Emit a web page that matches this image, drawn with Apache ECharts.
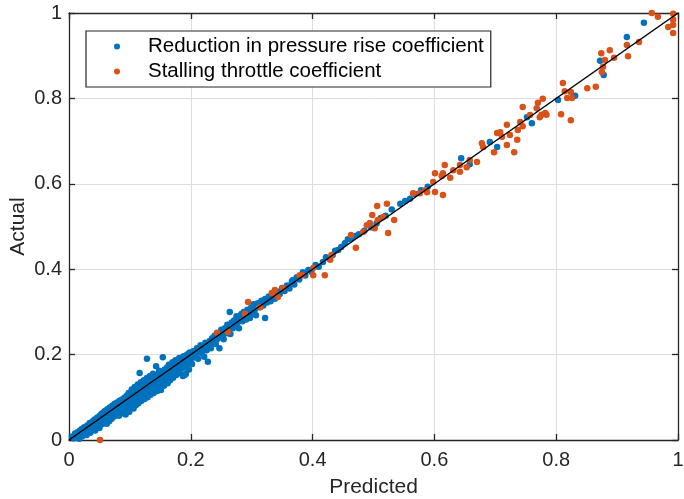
<!DOCTYPE html>
<html>
<head>
<meta charset="utf-8">
<script src="https://cdn.jsdelivr.net/npm/echarts@6/dist/echarts.min.js"></script>
<style>
html,body{margin:0;padding:0;background:#fff;}
#chart{width:684px;height:499px;}
</style>
</head>
<body>
<div id="chart"></div>
<script>
var xTicks = [0, 0.2, 0.4, 0.6, 0.8, 1];
var yTicks = [0, 0.2, 0.4, 0.6, 0.8, 1];
var seriesNames = ['Reduction in pressure rise coefficient', 'Stalling throttle coefficient'];
var axisNames = ['Predicted', 'Actual'];
var idealLine = [[0, 0], [1, 1]];

var reductionPoints = [
[0.005,0.008],[0.008,0.004],[0.010,0.015],[0.012,0.006],[0.014,0.018],[0.015,0.010],[0.017,0.003],[0.018,0.022],[0.020,0.014],[0.021,0.026],[0.022,0.009],[0.024,0.020],[0.025,0.030],[0.026,0.016],[0.028,0.024],[0.029,0.012],[0.030,0.034],[0.031,0.021],[0.033,0.028],[0.034,0.040],[0.035,0.017],[0.036,0.032],[0.038,0.025],[0.039,0.044],[0.040,0.036],[0.041,0.029],[0.042,0.048],[0.043,0.022],[0.045,0.040],[0.046,0.052],[0.047,0.034],[0.048,0.045],[0.050,0.028],[0.050,0.056],
[0.052,0.044],[0.053,0.061],[0.054,0.037],[0.055,0.050],[0.056,0.064],[0.057,0.042],[0.058,0.055],[0.059,0.068],[0.060,0.047],[0.061,0.060],[0.062,0.038],[0.063,0.072],[0.064,0.053],[0.065,0.065],[0.066,0.044],[0.067,0.076],[0.068,0.058],[0.069,0.070],[0.070,0.050],[0.071,0.080],[0.072,0.063],[0.073,0.074],[0.074,0.055],[0.075,0.085],[0.076,0.068],[0.077,0.060],[0.078,0.079],[0.079,0.088],[0.080,0.064],[0.081,0.073],[0.082,0.057],[0.083,0.092],[0.084,0.070],[0.085,0.082],[0.086,0.062],[0.087,0.095],[0.088,0.076],[0.089,0.087],[0.090,0.068],[0.091,0.099],[0.092,0.080],[0.093,0.060],[0.094,0.091],[0.095,0.104],[0.096,0.073],[0.097,0.085],[0.098,0.110],[0.099,0.066],[0.100,0.094],
[0.101,0.081],[0.102,0.107],[0.103,0.118],[0.104,0.088],[0.105,0.099],[0.106,0.074],[0.107,0.113],[0.108,0.124],[0.109,0.093],[0.110,0.082],[0.110,0.104],[0.111,0.119],[0.112,0.098],[0.113,0.130],[0.114,0.086],[0.115,0.110],[0.116,0.157],[0.116,0.124],[0.117,0.101],[0.118,0.135],[0.119,0.092],[0.120,0.116],[0.121,0.128],[0.122,0.105],[0.123,0.140],[0.124,0.096],[0.125,0.121],[0.126,0.132],[0.127,0.110],[0.128,0.145],[0.128,0.190],[0.129,0.100],[0.130,0.126],[0.131,0.138],[0.132,0.115],[0.133,0.150],[0.134,0.106],[0.135,0.130],[0.136,0.143],[0.137,0.120],[0.138,0.155],[0.139,0.110],[0.140,0.135],[0.141,0.148],[0.142,0.124],[0.143,0.173],[0.144,0.140],[0.145,0.115],[0.146,0.153],[0.147,0.130],[0.148,0.162],[0.149,0.121],[0.150,0.145],
[0.151,0.117],[0.152,0.158],[0.153,0.134],[0.154,0.194],[0.155,0.150],[0.156,0.127],[0.157,0.165],[0.158,0.140],[0.160,0.155],[0.161,0.170],[0.162,0.133],[0.163,0.148],[0.164,0.176],[0.165,0.160],[0.166,0.140],[0.168,0.168],[0.169,0.152],[0.170,0.182],[0.171,0.146],[0.172,0.174],[0.173,0.160],[0.175,0.187],[0.176,0.152],[0.177,0.169],[0.178,0.178],[0.180,0.163],[0.181,0.192],[0.182,0.157],[0.183,0.175],[0.185,0.185],[0.186,0.168],[0.187,0.150],[0.188,0.196],[0.189,0.178],[0.190,0.152],[0.191,0.188],[0.192,0.155],[0.193,0.170],[0.194,0.200],[0.195,0.182],[0.196,0.190],[0.197,0.165],[0.198,0.205],[0.199,0.185],[0.200,0.195],
[0.202,0.178],[0.204,0.208],[0.206,0.193],[0.208,0.200],[0.210,0.215],[0.212,0.190],[0.214,0.206],[0.216,0.222],[0.218,0.203],[0.220,0.214],[0.222,0.195],[0.224,0.228],[0.226,0.210],[0.228,0.183],[0.229,0.222],[0.231,0.232],[0.233,0.215],[0.235,0.238],[0.237,0.226],[0.239,0.244],[0.241,0.225],[0.243,0.236],[0.245,0.250],[0.247,0.215],[0.248,0.240],[0.250,0.258],[0.252,0.245],[0.254,0.236],[0.256,0.262],[0.258,0.250],[0.260,0.270],[0.262,0.258],[0.264,0.300],[0.265,0.248],[0.267,0.275],[0.269,0.262],[0.271,0.280],[0.273,0.268],[0.275,0.290],[0.277,0.276],[0.279,0.262],[0.281,0.286],[0.283,0.295],[0.285,0.278],[0.287,0.300],[0.289,0.290],[0.291,0.282],[0.293,0.305],[0.295,0.296],[0.297,0.286],[0.299,0.310],[0.301,0.298],[0.303,0.318],[0.305,0.305],[0.307,0.292],[0.310,0.320],[0.313,0.311],[0.316,0.326],[0.319,0.315],[0.322,0.286],[0.322,0.330],[0.325,0.322],[0.328,0.336],[0.331,0.325],
[0.335,0.340],[0.338,0.331],[0.342,0.348],[0.346,0.342],[0.350,0.356],[0.354,0.349],[0.358,0.362],[0.362,0.355],[0.366,0.372],[0.368,0.375],[0.370,0.364],[0.374,0.381],[0.378,0.376],[0.384,0.393],[0.388,0.385],[0.393,0.398],[0.398,0.394],[0.405,0.410],[0.410,0.406],[0.417,0.417],[0.422,0.428],[0.428,0.424],[0.433,0.433],[0.437,0.443],[0.442,0.445],[0.447,0.452],[0.453,0.461],[0.458,0.470],[0.464,0.472],[0.470,0.478],[0.476,0.482],[0.485,0.490],[0.496,0.498],[0.505,0.507],[0.512,0.520],[0.520,0.525],[0.530,0.540],[0.544,0.553],[0.552,0.560],[0.560,0.565],[0.568,0.576],[0.578,0.585],[0.589,0.593],
[0.644,0.660],[0.658,0.646],[0.691,0.698],[0.703,0.686],[0.752,0.756],[0.760,0.742],[0.803,0.796],[0.831,0.806],[0.872,0.888],[0.878,0.855],[0.916,0.944],[0.944,0.977]
];

var stallingPoints = [
[0.051,0.000],
[0.243,0.251],[0.261,0.253],[0.289,0.295],[0.294,0.323],[0.314,0.311],[0.333,0.344],[0.338,0.351],[0.343,0.335],[0.351,0.356],[0.383,0.386],[0.379,0.386],[0.401,0.403],[0.401,0.386],[0.420,0.386],[0.429,0.422],[0.431,0.433],[0.471,0.450],[0.463,0.480],[0.483,0.487],[0.489,0.503],[0.494,0.508],[0.502,0.496],[0.498,0.527],[0.507,0.515],[0.516,0.522],[0.534,0.515],[0.524,0.485],[0.506,0.548],[0.522,0.553],
[0.565,0.578],[0.576,0.578],[0.588,0.580],[0.598,0.604],[0.585,0.585],[0.601,0.581],[0.614,0.574],[0.601,0.625],[0.614,0.625],[0.617,0.644],[0.626,0.614],[0.612,0.618],[0.631,0.632],[0.642,0.644],[0.642,0.628],[0.653,0.639],[0.658,0.656],[0.670,0.651],[0.678,0.695],[0.680,0.686],[0.698,0.674],[0.703,0.719],[0.708,0.721],[0.711,0.710],[0.719,0.738],[0.719,0.691],[0.724,0.714],[0.731,0.674],[0.736,0.703],[0.737,0.726],[0.741,0.745],[0.745,0.735],[0.745,0.780],[0.757,0.761],[0.768,0.777],[0.770,0.790],[0.776,0.762],[0.784,0.762],[0.778,0.799],[0.782,0.766],[0.773,0.756],[0.808,0.763],[0.824,0.749],[0.811,0.836],[0.814,0.817],[0.824,0.815],[0.818,0.801],[0.826,0.801],[0.851,0.824],[0.865,0.827],[0.874,0.906],[0.877,0.874],[0.875,0.862],[0.880,0.890],[0.888,0.913],[0.895,0.895],[0.916,0.925],[0.918,0.899],[0.936,0.932],[0.957,1.000],[0.967,0.991],[0.992,0.998],[0.992,0.984],[0.992,0.972],[0.984,0.967],[0.992,0.953]
];

var FONT = '"Liberation Sans", Arial, Helvetica, sans-serif';
var AX = '#262626';

function fmt(v) { return String(Math.round(v * 10) / 10); }

function mkX(pos, showLabels, name) {
  return {
    type: 'value', position: pos, min: xTicks[0], max: xTicks[xTicks.length - 1], interval: 0.2,
    name: name || '', nameLocation: 'middle', nameGap: 37, nameMoveOverlap: false,
    nameTextStyle: { fontFamily: FONT, fontSize: 21, color: AX },
    axisLine: { show: true, onZero: false, lineStyle: { color: AX, width: 1.3 } },
    axisTick: { show: true, inside: true, length: 6, lineStyle: { color: AX, width: 1.3 } },
    axisLabel: { show: showLabels, fontFamily: FONT, fontSize: 20, color: AX, margin: 10, formatter: fmt },
    splitLine: { show: showLabels, lineStyle: { color: '#dedede', width: 1 } }
  };
}
function mkY(pos, showLabels, name) {
  return {
    type: 'value', position: pos, min: yTicks[0], max: yTicks[yTicks.length - 1], interval: 0.2,
    name: name || '', nameLocation: 'middle', nameGap: 40.5, nameMoveOverlap: false,
    nameTextStyle: { fontFamily: FONT, fontSize: 21, color: AX },
    axisLine: { show: true, onZero: false, lineStyle: { color: AX, width: 1.3 } },
    axisTick: { show: true, inside: true, length: 6, lineStyle: { color: AX, width: 1.3 } },
    axisLabel: { show: showLabels, fontFamily: FONT, fontSize: 20, color: AX, margin: 7, formatter: fmt },
    splitLine: { show: showLabels, lineStyle: { color: '#dedede', width: 1 } }
  };
}

var chart = echarts.init(document.getElementById('chart'), null, { renderer: 'canvas' });
chart.setOption({
  animation: false,
  backgroundColor: '#ffffff',
  grid: { left: 69, right: 6, top: 13, bottom: 59, containLabel: false, outerBoundsMode: 'none' },
  xAxis: [mkX('bottom', true, axisNames[0]), mkX('top', false)],
  yAxis: [mkY('left', true, axisNames[1]), mkY('right', false)],
  legend: {
    data: seriesNames,
    orient: 'vertical',
    left: 86, top: 31,
    padding: [5, 7, 5, 28],
    itemGap: 4,
    itemWidth: 6, itemHeight: 6,
    icon: 'circle',
    backgroundColor: '#ffffff',
    borderColor: '#262626', borderWidth: 1.2, borderRadius: 0,
    textStyle: { fontFamily: FONT, fontSize: 20.5, color: '#000', lineHeight: 20, padding: [0, 0, 0, 23] }
  },
  series: [
    { name: seriesNames[0], type: 'scatter', data: reductionPoints, symbol: 'circle', symbolSize: 6.5,
      itemStyle: { color: '#0072BD', opacity: 1 }, z: 2 },
    { name: seriesNames[1], type: 'scatter', data: stallingPoints, symbol: 'circle', symbolSize: 6.5,
      itemStyle: { color: '#D95319', opacity: 1 }, z: 3 },
    { name: 'ideal', type: 'line', data: idealLine, symbol: 'none', silent: true,
      lineStyle: { color: '#000', width: 1.5 }, z: 4 }
  ]
});
</script>
</body>
</html>
